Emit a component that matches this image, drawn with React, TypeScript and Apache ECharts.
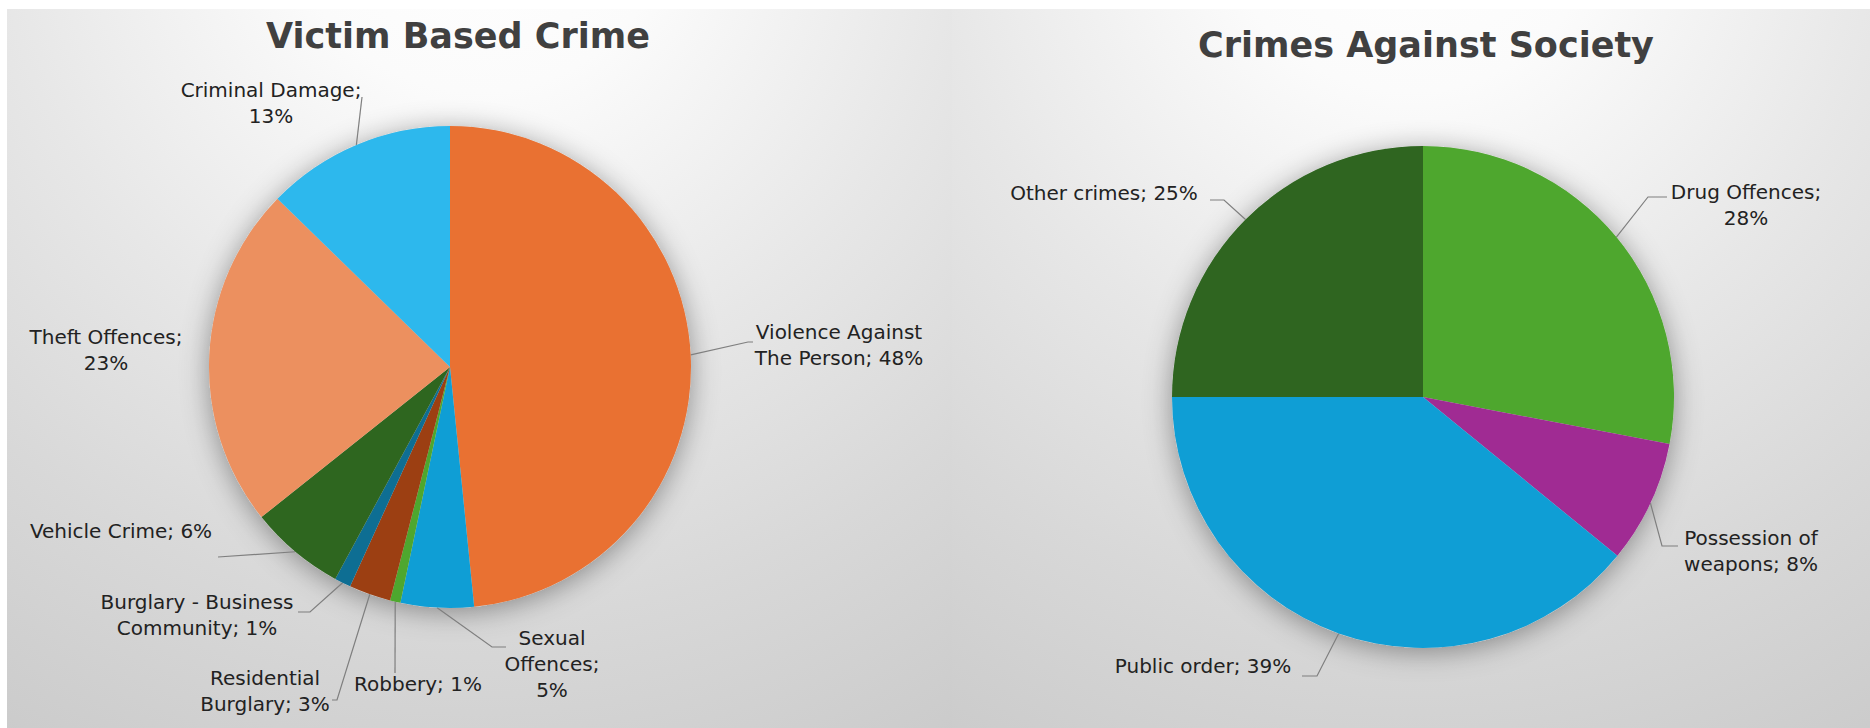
import React, { useEffect, useRef } from "react";
import * as echarts from "echarts";

// ---------- data ----------
const leftTitle = "Victim Based Crime";
const leftNames = [
  "Violence Against The Person",
  "Sexual Offences",
  "Robbery",
  "Residential Burglary",
  "Burglary - Business Community",
  "Vehicle Crime",
  "Theft Offences",
  "Criminal Damage",
];
const leftValues = [48.4, 4.9, 0.7, 2.8, 1.1, 6.4, 23.0, 12.7];
const leftColors = ["#E97132", "#0F9ED5", "#4EA72E", "#9C3F12", "#0E6E93", "#2E661F", "#EC905F", "#2DB8ED"];

const rightTitle = "Crimes Against Society";
const rightNames = ["Drug Offences", "Possession of weapons", "Public order", "Other crimes"];
const rightValues = [28.0, 7.9, 39.1, 25.0];
const rightColors = ["#4EA72E", "#A02B93", "#0F9ED5", "#2F6520"];

// ---------- layout ----------
const W = 1870;
const H = 728;
const PIES = [
  { cx: 450, cy: 367, r: 241 },
  { cx: 1423, cy: 397, r: 251 },
];
type LL = { x: number; y: number; line?: number[][]; breaks?: number[] };
const LABEL_LAYOUT: Record<string, LL> = {
  "Violence Against The Person": { x: 839, y: 345, line: [[748, 342], [753, 342]], breaks: [2] },
  "Sexual Offences": { x: 552, y: 664, line: [[492, 647], [506, 647]], breaks: [1, 2] },
  Robbery: { x: 418, y: 684, line: [[395, 673], [395, 673]] },
  "Residential Burglary": { x: 265, y: 691, line: [[337, 700], [332, 700]], breaks: [1] },
  "Burglary - Business Community": { x: 197, y: 615, line: [[310, 612], [298, 612]], breaks: [3] },
  "Vehicle Crime": { x: 121, y: 531, line: [[218, 557], [218, 557]] },
  "Theft Offences": { x: 106, y: 350, breaks: [2] },
  "Criminal Damage": { x: 271, y: 103, line: [[362, 97], [362, 97]], breaks: [2] },
  "Drug Offences": { x: 1746, y: 205, line: [[1648, 197], [1667, 197]], breaks: [2] },
  "Possession of weapons": { x: 1751, y: 551, line: [[1662, 546], [1678, 546]], breaks: [2] },
  "Public order": { x: 1203, y: 666, line: [[1317, 676], [1302, 676]] },
  "Other crimes": { x: 1104, y: 193, line: [[1224, 200], [1210, 200]] },
};

function labelText(name: string, value: number): string {
  const tokens = `${name}; ${Math.round(value)}%`.split(" ");
  const breaks = LABEL_LAYOUT[name]?.breaks || [];
  let out = "";
  tokens.forEach((t, i) => {
    if (i > 0) out += breaks.includes(i) ? "\n" : " ";
    out += t;
  });
  return out;
}

function edgePoint(pieIdx: number, values: number[], idx: number): number[] {
  const total = values.reduce((a, b) => a + b, 0);
  let before = 0;
  for (let i = 0; i < idx; i++) before += values[i];
  const mid = ((before + values[idx] / 2) / total) * Math.PI * 2;
  const p = PIES[pieIdx];
  return [p.cx + p.r * Math.sin(mid), p.cy - p.r * Math.cos(mid)];
}

const FONT = "'DejaVu Sans', Verdana, sans-serif";

function makeSeries(pieIdx: number, names: string[], values: number[], colors: string[]) {
  const p = PIES[pieIdx];
  const data = names.map((n, i) => ({
    name: n,
    value: values[i],
    itemStyle: { color: colors[i] },
    labelLine: { show: !!LABEL_LAYOUT[n]?.line },
  }));
  return [
    {
      type: "pie",
      silent: true,
      z: 1,
      center: [p.cx, p.cy],
      radius: p.r,
      label: { show: false },
      labelLine: { show: false },
      data: [{ value: 1, name: "shadow", itemStyle: { color: "#d8d8d8" } }],
      itemStyle: { shadowBlur: 28, shadowColor: "rgba(0,0,0,0.38)", shadowOffsetY: 4 },
    },
    {
      type: "pie",
      z: 2,
      center: [p.cx, p.cy],
      radius: p.r,
      startAngle: 90,
      clockwise: true,
      avoidLabelOverlap: false,
      data,
      label: {
        show: true,
        position: "outside",
        formatter: (pr: any) => labelText(pr.name, pr.value),
        fontFamily: FONT,
        fontSize: 20,
        lineHeight: 26,
        color: "#222222",
        align: "center",
      },
      labelLine: {
        show: true,
        lineStyle: { color: "#7f7f7f", width: 1.2 },
      },
      labelLayout: (params: any) => {
        const name = names[params.dataIndex];
        const L = LABEL_LAYOUT[name];
        if (!L) return {};
        const res: any = { x: L.x, y: L.y, align: "center", verticalAlign: "middle" };
        if (L.line) {
          const start = edgePoint(pieIdx, values, params.dataIndex);
          res.labelLinePoints = [start, L.line[0], L.line[1]];
        }
        return res;
      },
      emphasis: { disabled: true },
    },
  ];
}

function bgRect(x: number, w: number) {
  return {
    type: "rect",
    silent: true,
    z: -10,
    shape: { x, y: 9, width: w, height: H - 9 },
    style: {
      fill: {
        type: "radial",
        x: x + w / 2,
        y: -100,
        r: 960,
        global: true,
        colorStops: [
          { offset: 0, color: "#ffffff" },
          { offset: 0.2, color: "#fbfbfb" },
          { offset: 0.5, color: "#e7e7e7" },
          { offset: 0.75, color: "#d8d8d8" },
          { offset: 1, color: "#cbcbcb" },
        ],
      },
    },
  };
}

export default function App() {
  const ref = useRef<HTMLDivElement>(null);
  useEffect(() => {
    if (!ref.current) return;
    const chart = echarts.init(ref.current, undefined, { renderer: "svg", width: W, height: H });
    chart.setOption({
      animation: false,
      backgroundColor: "#ffffff",
      title: [
        {
          text: leftTitle,
          left: 453,
          top: 13,
          textAlign: "center",
          textStyle: { fontFamily: FONT, fontSize: 35, fontWeight: "bold", color: "#404040" },
        },
        {
          text: rightTitle,
          left: 1421,
          top: 22,
          textAlign: "center",
          textStyle: { fontFamily: FONT, fontSize: 35, fontWeight: "bold", color: "#404040" },
        },
      ],
      graphic: [bgRect(7, 945), bgRect(952, 918)],
      series: [
        ...makeSeries(0, leftNames, leftValues, leftColors),
        ...makeSeries(1, rightNames, rightValues, rightColors),
      ],
    });
    return () => chart.dispose();
  }, []);
  return (
    <div
      ref={ref}
      style={{ position: "fixed", left: 0, top: 0, width: W, height: H }}
    />
  );
}
